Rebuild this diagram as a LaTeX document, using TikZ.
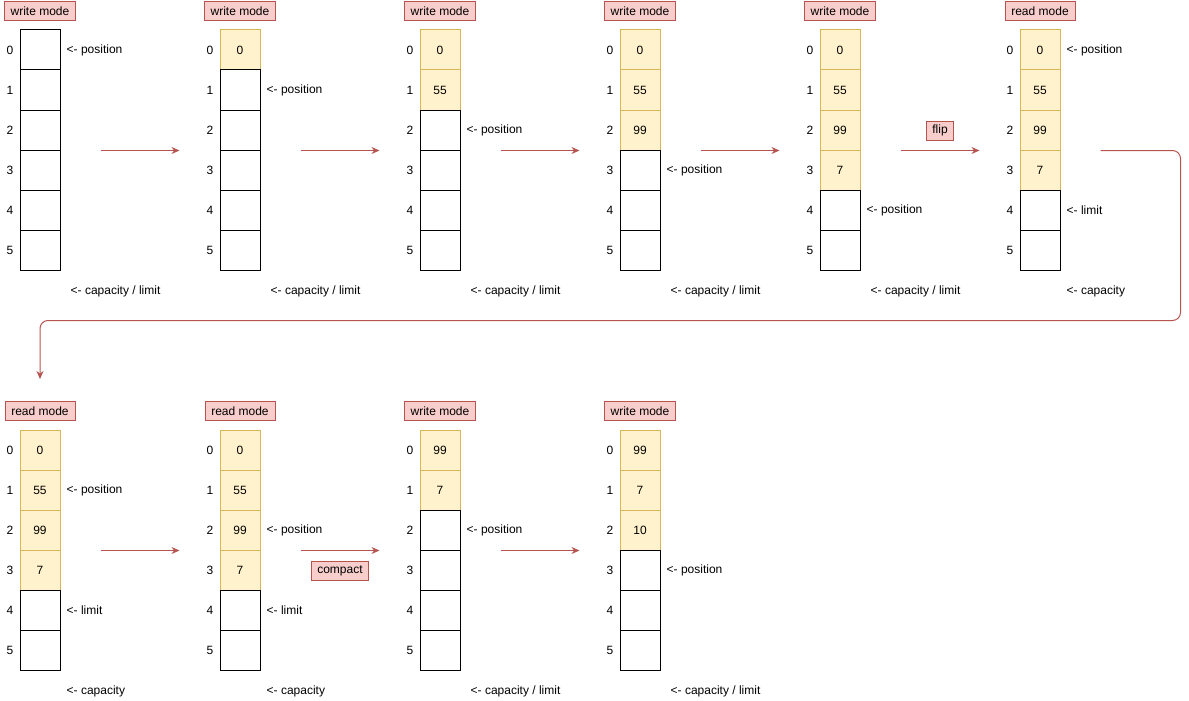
\documentclass[tikz,border=0pt]{standalone}
\usepackage{fontspec}
\setmainfont{Liberation Sans}
\usetikzlibrary{arrows.meta}

\definecolor{tagfill}{HTML}{F8CECC}
\definecolor{tagdraw}{HTML}{B85450}
\definecolor{usedfill}{HTML}{FFF2CC}
\definecolor{useddraw}{HTML}{D6B656}

\tikzset{
  slot/.style={draw, line width=1pt, minimum width=40pt, minimum height=40pt, inner sep=0pt},
  used/.style={slot, draw=useddraw, fill=usedfill},
  tag/.style={draw=tagdraw, fill=tagfill, line width=1pt, inner xsep=6pt, inner ysep=0pt, minimum height=19pt},
  note/.style={anchor=west, inner sep=0pt},
  flow/.style={draw=tagdraw, line width=1pt, -{Stealth[length=8pt,width=7pt]}},
}

\begin{document}
\begin{tikzpicture}[x=1pt, y=-1pt, font=\fontsize{12}{14}\selectfont]
\useasboundingbox (0,0) rectangle (1189,701);
% buffers: name / x / y / mode / used cells / values
\foreach \b/\ox/\oy/\m/\n/\vals in {
  1/0/0/write mode/0/{},
  2/200/0/write mode/1/{0},
  3/400/0/write mode/2/{0,55},
  4/600/0/write mode/3/{0,55,99},
  5/800/0/write mode/4/{0,55,99,7},
  6/1000/0/read mode/4/{0,55,99,7},
  7/0/400/read mode/4/{0,55,99,7},
  8/200/400/read mode/4/{0,55,99,7},
  9/400/400/write mode/2/{99,7},
  10/600/400/write mode/3/{99,7,10}} {
  \node[tag, minimum width=70pt] (b\b-m) at (\ox+40,\oy+11) {\m};
  \foreach \i in {0,...,5} {
    \ifnum\i<\n \def\kind{used}\else\def\kind{slot}\fi
    \node[\kind] (b\b-\i) at (\ox+40,\oy+50+40*\i) {};
    \node (b\b-i\i) at (\ox+10,\oy+50+40*\i) {\i};
  }
  \ifnum\n>0
    \foreach \v [count=\i from 0] in \vals
      \node at (b\b-\i) {\v};
  \fi
}
% position / limit markers
\foreach \b/\i/\t in {1/0/position, 2/1/position, 3/2/position, 4/3/position,
  5/4/position, 6/0/position, 6/4/limit, 7/1/position, 7/4/limit,
  8/2/position, 8/4/limit, 9/2/position, 10/3/position}
  \node[note] (b\b-p\i) at ([xshift=6pt]b\b-\i.east) {<- \t};
% capacity markers
\foreach \b/\dx/\t in {1/10/{capacity / limit}, 2/10/{capacity / limit},
  3/10/{capacity / limit}, 4/10/{capacity / limit}, 5/10/{capacity / limit},
  6/6/capacity, 7/6/capacity, 8/6/capacity, 9/10/{capacity / limit},
  10/10/{capacity / limit}}
  \node[note] (b\b-c) at ([xshift=\dx pt, yshift=-21pt]b\b-5.south east) {<- \t};
% steps
\foreach \a/\c in {1/2, 2/3, 3/4, 4/5, 7/8, 9/10}
  \draw[flow] ([xshift=40pt]b\a-2.south east) -- ([xshift=-40pt]b\c-2.south west);
\draw[flow] ([xshift=40pt]b5-2.south east) -- node[tag, above=10pt] (flip) {flip} ([xshift=-40pt]b6-2.south west);
\draw[flow] ([xshift=40pt]b8-2.south east) -- node[tag, below=10pt] (compact) {compact} ([xshift=-40pt]b9-2.south west);
\draw[flow, rounded corners=8pt] ([xshift=40pt]b6-2.south east) -- ++(80,0) -- ++(0,170) -| ([yshift=22pt]b7-m.north);
\end{tikzpicture}
\end{document}
